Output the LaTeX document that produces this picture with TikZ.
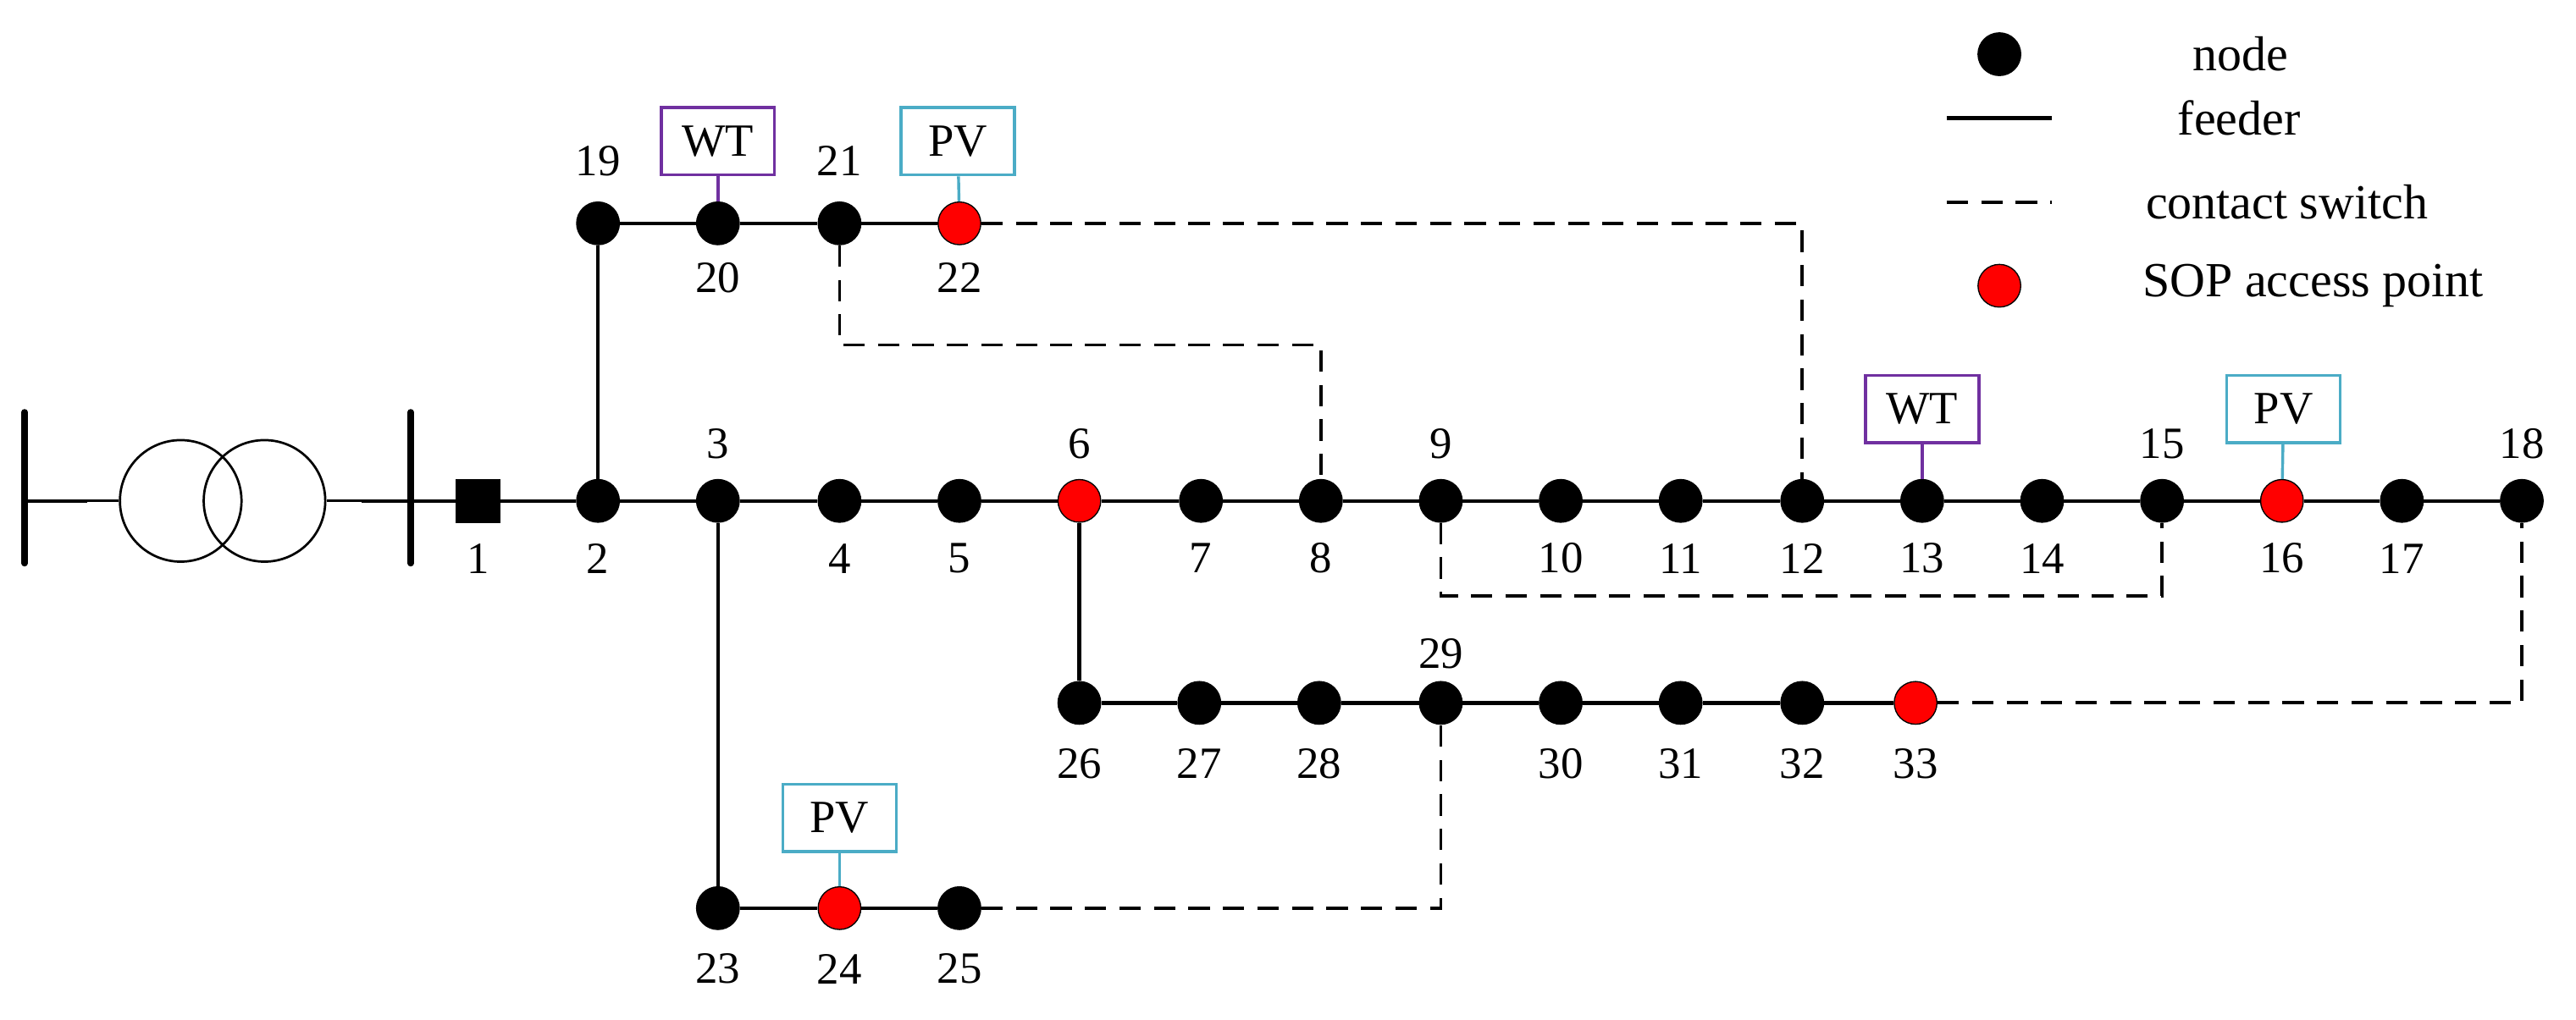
\documentclass[tikz,border=0pt]{standalone}
\usepackage{fontspec}
\setmainfont{Liberation Serif}
\begin{document}
\begin{tikzpicture}[x=0.2mm,y=-0.2mm,
  dot/.style={circle,fill=black,draw=black,line width=0.4pt,minimum size=5.2mm,inner sep=0pt},
  sop/.style={dot,fill=red},
  lab/.style={font=\fontsize{15.5}{15.5}\selectfont,inner sep=0pt},
  leg/.style={font=\fontsize{17}{17}\selectfont,inner sep=0pt},
  wire/.style={line width=1.3pt},
  dsh/.style={line width=1.1pt,dash pattern=on 2.6mm off 1.6mm},
  wtbox/.style={draw={rgb,255:red,112;green,48;blue,160},line width=1pt,minimum width=13.8mm,minimum height=8.2mm,font=\fontsize{16}{16}\selectfont,inner sep=0pt},
  pvbox/.style={wtbox,draw={rgb,255:red,75;green,172;blue,198}},
  wtstub/.style={draw={rgb,255:red,112;green,48;blue,160},line width=1pt},
  pvstub/.style={draw={rgb,255:red,75;green,172;blue,198},line width=1pt}]
\useasboundingbox (0,0) rectangle (1568,621);
% transformer
\coordinate (b1t) at (15,251); \coordinate (b1b) at (15,343); \coordinate (b1m) at (15,305);
\coordinate (b2t) at (250,251); \coordinate (b2b) at (250,343); \coordinate (b2m) at (250,305);
\draw[line width=2.2pt,line cap=round] (b1t) -- (b1b);
\draw[line width=2.2pt,line cap=round] (b2t) -- (b2b);
\node[circle,draw,line width=0.8pt,minimum size=14.8mm,inner sep=0pt] (c1) at (110,305) {};
\node[circle,draw,line width=0.8pt,minimum size=14.8mm,inner sep=0pt] (c2) at (161,305) {};
\coordinate (t1) at (53,305); \coordinate (t2) at (220,305);
\draw[wire] (b1m) -- (t1); \draw[line width=0.8pt] (t1) -- (c1.west);
\draw[line width=0.8pt] (c2.east) -- (t2); \draw[wire] (t2) -- (b2m);
% node 1
\node[rectangle,fill=black,minimum width=5.4mm,minimum height=5.4mm,inner sep=0pt] (n1) at (291,305) {};
\node[lab] (l1) at (291,340) {1};
% nodes
\foreach \i/\x/\y/\ly/\s in {2/364/305/35/dot,3/437/305/-35/dot,4/511/305/35/dot,5/584/305/35/dot,6/657/305/-35/sop,
 7/731/305/35/dot,8/804/305/35/dot,9/877/305/-35/dot,10/950/305/35/dot,11/1023/305/35/dot,12/1097/305/35/dot,
 13/1170/305/35/dot,14/1243/305/35/dot,15/1316/305/-35/dot,16/1389/305/35/sop,17/1462/305/35/dot,18/1535/305/-35/dot,
 19/364/136/-38/dot,20/437/136/33/dot,21/511/136/-38/dot,22/584/136/33/sop,
 23/437/553/37/dot,24/511/553/37/sop,25/584/553/37/dot,
 26/657/428/37/dot,27/730/428/37/dot,28/803/428/37/dot,29/877/428/-30/dot,30/950/428/37/dot,31/1023/428/37/dot,32/1097/428/37/dot,33/1166/428/37/sop}
{ \node[\s] (n\i) at (\x,\y) {}; \node[lab] (l\i) at (\x,{\y+\ly}) {\i}; }
% feeders
\draw[wire] (b2m) -- (n1) -- (n2) -- (n3) -- (n4) -- (n5) -- (n6) -- (n7) -- (n8) -- (n9) -- (n10) -- (n11) -- (n12) -- (n13) -- (n14) -- (n15) -- (n16) -- (n17) -- (n18);
\draw[wire] (n2) -- (n19) -- (n20) -- (n21) -- (n22);
\draw[wire] (n3) -- (n23) -- (n24) -- (n25);
\draw[wire] (n6) -- (n26) -- (n27) -- (n28) -- (n29) -- (n30) -- (n31) -- (n32) -- (n33);
% contact switches
\coordinate (d1) at (511,210); \coordinate (d2) at (804,210);
\coordinate (d3) at (1097,136);
\coordinate (d4) at (877,363); \coordinate (d5) at (1316,363);
\coordinate (d6) at (1535,428);
\coordinate (d7) at (877,553);
\draw[dsh] (n21) -- (d1) -- (d2) -- (n8);
\draw[dsh] (n22) -- (d3) -- (n12);
\draw[dsh] (n9) -- (d4) -- (d5) -- (n15);
\draw[dsh] (n33) -- (d6) -- (n18);
\draw[dsh] (n25) -- (d7) -- (n29);
% DG boxes
\node[wtbox] (wt20) at (437,86) {WT}; \draw[wtstub] (wt20) -- (n20);
\node[pvbox] (pv22) at (583,86) {PV}; \draw[pvstub] (pv22) -- (n22);
\node[wtbox] (wt13) at (1170,249) {WT}; \draw[wtstub] (wt13) -- (n13);
\node[pvbox] (pv16) at (1390,249) {PV}; \draw[pvstub] (pv16) -- (n16);
\node[pvbox] (pv24) at (511,498) {PV}; \draw[pvstub] (pv24) -- (n24);
% legend
\node[dot] (g1) at (1217,33) {}; \node[leg] (gt1) at (1364,33) {node};
\coordinate (g2a) at (1185,72); \coordinate (g2b) at (1249,72);
\draw[wire] (g2a) -- (g2b); \node[leg] (gt2) at (1363,72) {feeder};
\coordinate (g3a) at (1185,123); \coordinate (g3b) at (1249,123);
\draw[dsh] (g3a) -- (g3b); \node[leg] (gt3) at (1392,123) {contact switch};
\node[sop] (g4) at (1217,174) {}; \node[leg] (gt4) at (1408,174) {SOP access point};
\end{tikzpicture}
\end{document}
